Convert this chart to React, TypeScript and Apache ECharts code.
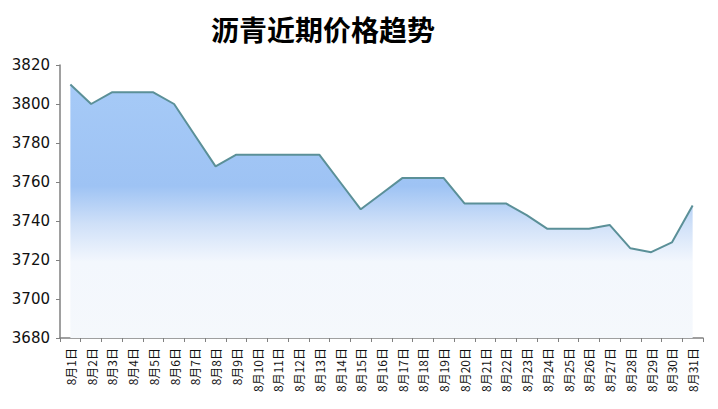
import React, { useEffect, useRef } from "react";
import * as echarts from "echarts";

const titleText = "沥青近期价格趋势";
const categories = Array.from({ length: 31 }, (_, i) => `8月${i + 1}日`);
const prices = [
  3810, 3800, 3806, 3806, 3806, 3800, 3784, 3768, 3774, 3774,
  3774, 3774, 3774, 3760, 3746, 3754, 3762, 3762, 3762, 3749,
  3749, 3749, 3743, 3736, 3736, 3736, 3738, 3726, 3724, 3729,
  3748,
];
const yMin = 3680;
const yMax = 3820;
const yStep = 20;

export default function App() {
  const ref = useRef<HTMLDivElement>(null);
  useEffect(() => {
    if (!ref.current) return;
    const chart = echarts.init(ref.current, null, { renderer: "svg" });
    chart.setOption({
      animation: false,
      backgroundColor: "#ffffff",
      title: {
        text: titleText,
        left: 318,
        top: 10,
        textAlign: "center",
        textStyle: {
          fontFamily: "Noto Sans CJK SC",
          fontSize: 28,
          fontWeight: "bold",
          color: "#000000",
        },
      },
      grid: { left: 60, right: 15, top: 65, bottom: 71, containLabel: false },
      xAxis: {
        type: "category",
        data: categories,
        boundaryGap: true,
        axisLine: { lineStyle: { color: "#808080", width: 1.5 } },
        axisTick: { show: true, length: 4, lineStyle: { color: "#808080" } },
        axisLabel: {
          rotate: 90,
          interval: 0,
          margin: 10,
          fontFamily: "Noto Sans CJK SC",
          fontSize: 12,
          color: "#111111",
        },
        splitLine: { show: false },
      },
      yAxis: {
        type: "value",
        min: yMin,
        max: yMax,
        interval: yStep,
        axisLine: { show: true, lineStyle: { color: "#808080", width: 1.5 } },
        axisTick: { show: true, length: 4, lineStyle: { color: "#808080" } },
        axisLabel: {
          fontFamily: "DejaVu Sans",
          fontSize: 15,
          color: "#111111",
          margin: 10,
          formatter: (v: number) => String(v),
        },
        splitLine: { show: false },
      },
      series: [
        {
          type: "line",
          data: prices,
          symbol: "none",
          lineStyle: { color: "#5b9098", width: 2 },
          areaStyle: {
            opacity: 1,
            color: new echarts.graphic.LinearGradient(0, 0, 0, 1, [
              { offset: 0, color: "#a6caf7" },
              { offset: 0.4, color: "#9ec3f4" },
              { offset: 0.55, color: "#cfe0f8" },
              { offset: 0.7, color: "#f3f7fd" },
              { offset: 1, color: "#f5f8fc" },
            ]),
          },
        },
      ],
    });
    return () => chart.dispose();
  }, []);
  return (
    <div
      ref={ref}
      style={{ position: "absolute", left: 0, top: 0, width: 718, height: 409 }}
    />
  );
}
